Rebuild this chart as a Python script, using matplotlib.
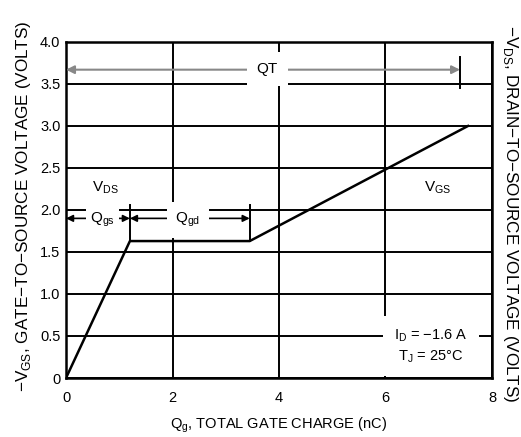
import matplotlib
matplotlib.use("Agg")
import matplotlib.pyplot as plt

# gate charge curve (nC, volts)
charge = [0, 1.2, 3.45, 7.55]
vgs = [0, 1.63, 1.63, 3.0]

x_ticks = [0, 2, 4, 6, 8]
x_labels = ["0", "2", "4", "6", "8"]
y_ticks = [0, 0.5, 1.0, 1.5, 2.0, 2.5, 3.0, 3.5, 4.0]
y_labels = ["0", "0.5", "1.0", "1.5", "2.0", "2.5", "3.0", "3.5", "4.0"]

qgs_end = 1.2
qgd_end = 3.45
qt_end = 7.4

plt.rcParams['font.family'] = ['Liberation Sans', 'DejaVu Sans']
plt.rcParams['mathtext.fontset'] = 'custom'
plt.rcParams['mathtext.rm'] = 'Liberation Sans'

fig = plt.figure(figsize=(5.21, 4.37), dpi=100)
ax = fig.add_axes([0.1267, 0.135, 0.8176, 0.769])

ax.set_xlim(0, 8)
ax.set_ylim(0, 4)
ax.set_xticks(x_ticks)
ax.set_xticklabels(x_labels)
ax.set_yticks(y_ticks)
ax.set_yticklabels(y_labels)
ax.tick_params(length=0, labelsize=10.5, pad=4)
ax.tick_params(axis='x', pad=9)
ax.grid(True, color='black', lw=1.4, zorder=1)
ax.set_axisbelow(True)
for s in ax.spines.values():
    s.set_linewidth(1.8)

ax.plot(charge, vgs, color='black', lw=1.8, zorder=3)

box = dict(facecolor='white', edgecolor='none', pad=2)

# QT arrow
ax.annotate('', xy=(0, 3.67), xytext=(qt_end, 3.67),
            arrowprops=dict(arrowstyle='<|-|>', color='#888888', lw=1.5,
                            shrinkA=0, shrinkB=0, mutation_scale=12), zorder=4)
ax.plot([qt_end, qt_end], [3.45, 3.82], color='black', lw=1.4, zorder=4)
ax.text(3.78, 3.68, 'QT', ha='center', va='center', fontsize=11,
        bbox=dict(facecolor='white', edgecolor='none', pad=7), zorder=5)

# Qgs / Qgd arrows
ax.annotate('', xy=(0, 1.9), xytext=(qgs_end, 1.9),
            arrowprops=dict(arrowstyle='<|-|>', color='black', lw=1.2,
                            shrinkA=0, shrinkB=0, mutation_scale=10), zorder=4)
ax.annotate('', xy=(qgs_end, 1.9), xytext=(qgd_end, 1.9),
            arrowprops=dict(arrowstyle='<|-|>', color='black', lw=1.2,
                            shrinkA=0, shrinkB=0, mutation_scale=10), zorder=4)
ax.plot([qgs_end, qgs_end], [1.63, 2.06], color='black', lw=1.4, zorder=4)
ax.plot([qgd_end, qgd_end], [1.63, 2.06], color='black', lw=1.4, zorder=4)
ax.text(0.68, 1.88, r'Q$_{\mathregular{gs}}$', ha='center', va='center',
        fontsize=11, bbox=dict(facecolor='white', edgecolor='none', pad=3), zorder=5)
ax.text(2.29, 1.88, r'Q$_{\mathregular{gd}}$', ha='center', va='center',
        fontsize=11, bbox=dict(facecolor='white', edgecolor='none', pad=6), zorder=5)

ax.text(0.73, 2.27, r'V$_{\mathregular{DS}}$', ha='center', va='center', fontsize=11,
        bbox=box, zorder=5)
ax.text(6.97, 2.26, r'V$_{\mathregular{GS}}$', ha='center', va='center', fontsize=11,
        bbox=box, zorder=5)

ax.text(6.85, 0.38, 'I$_{\\mathregular{D}}$ = \u22121.6 A\nT$_{\\mathregular{J}}$ = 25\u00b0C',
        ha='center', va='center', fontsize=10.5, linespacing=1.3,
        bbox=dict(facecolor='white', edgecolor='none', pad=8), zorder=5)

ax.set_xlabel(r'Q$_{\mathregular{g}}$, TOTAL GATE CHARGE (nC)', fontsize=10.5, labelpad=8)
ax.text(-0.1, 0.51, '\u2212V$_{\\mathregular{GS}}$, GATE\u2212TO\u2212SOURCE VOLTAGE (VOLTS)',
        transform=ax.transAxes, rotation=90, ha='center', va='center', fontsize=12.3)
ax.text(1.043, 0.49, '\u2212V$_{\\mathregular{DS}}$, DRAIN\u2212TO\u2212SOURCE VOLTAGE (VOLTS)',
        transform=ax.transAxes, rotation=-90, ha='center', va='center', fontsize=12.3)

fig.savefig('out.png', dpi=100)
